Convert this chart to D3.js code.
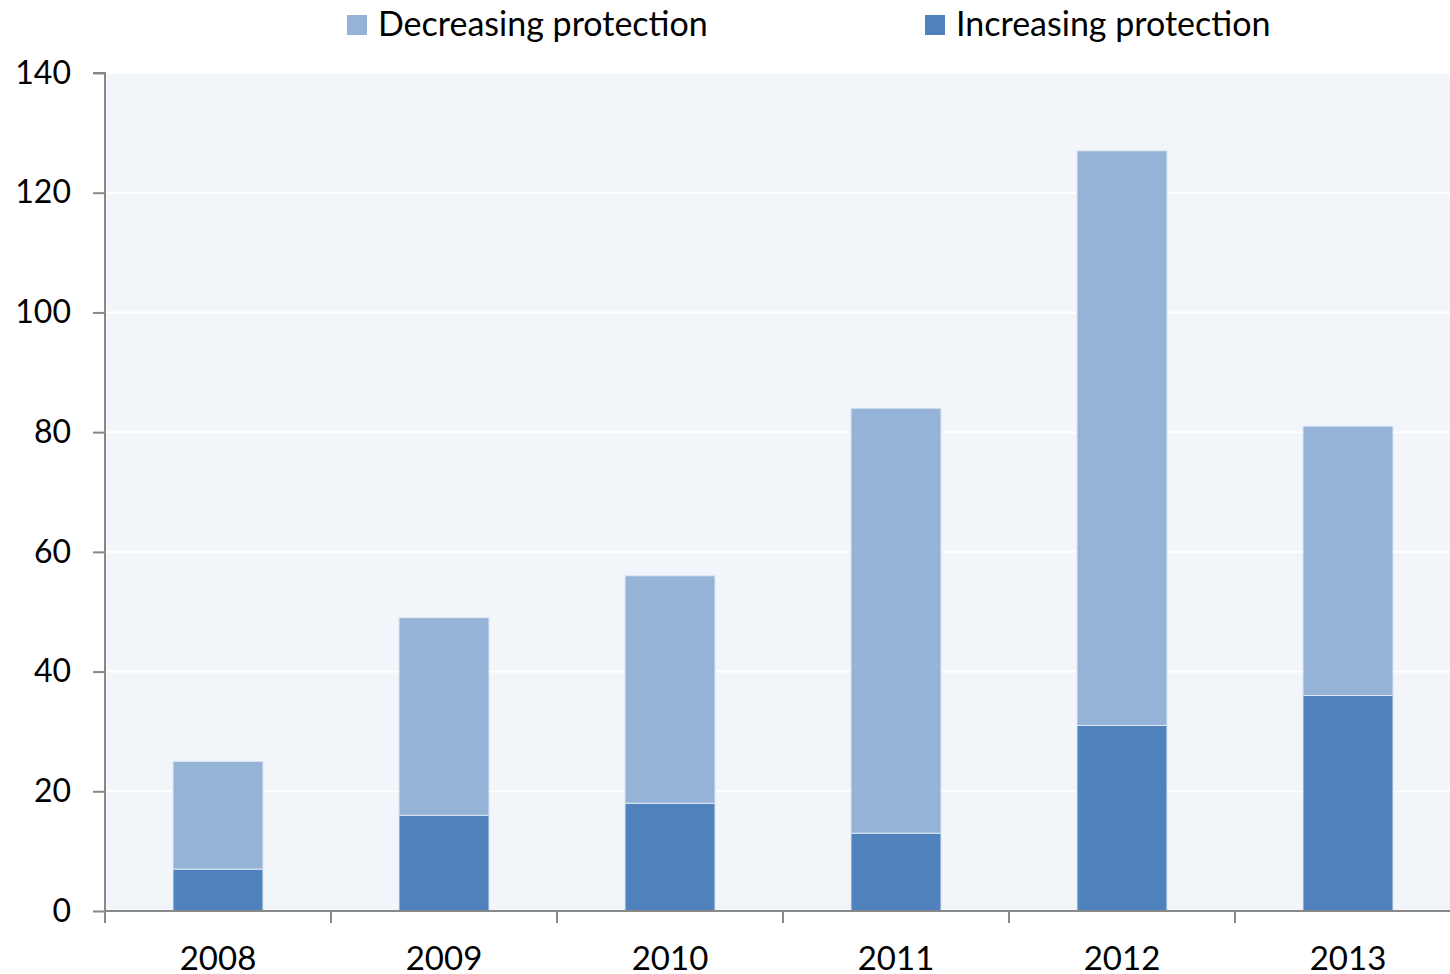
<!DOCTYPE html>
<html><head><meta charset="utf-8">
<script src="https://cdn.jsdelivr.net/npm/d3@7"></script>
<style>body{margin:0;background:#fff;} svg{display:block;font-family:Lato,"Open Sans",sans-serif;}</style>
</head><body><svg id="c" width="1450" height="974"></svg>
<script>
const years = ["2008","2009","2010","2011","2012","2013"];
const increasing = [7,16,18,13,31,36];
const decreasing = [18,33,38,71,96,45];
const seriesNames = ["Increasing protection","Decreasing protection"];
const yTicks = [0,20,40,60,80,100,120,140];

const svg = d3.select("#c");
const x0 = 105, y0 = 911, yTop = 73;
const xb = d3.scaleBand().domain(years).range([x0, x0 + 6*226]);
const y = d3.scaleLinear().domain([0,140]).range([y0, yTop]);
const colors = {"Increasing protection":"#4F81BD","Decreasing protection":"#95B3D7"};

svg.append("rect").attr("x",x0).attr("y",yTop).attr("width",1450-x0).attr("height",y0-yTop).attr("fill","#F2F6FA");
svg.append("g").selectAll("line").data(yTicks.slice(1)).join("line")
  .attr("x1",x0).attr("x2",1450).attr("y1",d=>y(d)).attr("y2",d=>y(d)).attr("stroke","#fff").attr("stroke-width",2);

const data = years.map((yr,i)=>({year:yr,"Increasing protection":increasing[i],"Decreasing protection":decreasing[i]}));
const stack = d3.stack().keys(seriesNames)(data);
const bw = 90;
svg.append("g").selectAll("g").data(stack).join("g").attr("fill",d=>colors[d.key])
  .selectAll("rect").data(d=>d).join("rect")
  .attr("x",d=>xb(d.data.year)+xb.bandwidth()/2-bw/2).attr("width",bw)
  .attr("y",d=>y(d[1])).attr("height",d=>y(d[0])-y(d[1]))
  .attr("stroke","#dbe6f3").attr("stroke-width",1);

// y axis
const ya = svg.append("g").attr("transform",`translate(${x0},0)`)
  .call(d3.axisLeft(y).tickValues(yTicks).tickSize(12).tickPadding(22).tickFormat(d3.format("d")));
ya.select(".domain").attr("stroke","#888").attr("stroke-width",2).attr("d",`M-12,${yTop}H0V${y0}`);
ya.selectAll(".tick line").attr("stroke","#888").attr("stroke-width",2);
ya.selectAll("text").attr("font-size",32).attr("fill","#000").attr("font-family","Lato, sans-serif");

// x axis
const xa = svg.append("g").attr("transform",`translate(0,${y0})`)
  .call(d3.axisBottom(xb).tickSize(0).tickPadding(36));
xa.select(".domain").attr("stroke","#888").attr("stroke-width",2).attr("d",`M${x0},0H1450`);
xa.selectAll("text").attr("font-size",33).attr("fill","#000").attr("font-family","Lato, sans-serif");
xa.append("g").selectAll("line").data(years).join("line")
  .attr("x1",d=>xb(d)).attr("x2",d=>xb(d)).attr("y1",0).attr("y2",12).attr("stroke","#888").attr("stroke-width",2);

// legend
const leg = [{k:"Decreasing protection",x:347},{k:"Increasing protection",x:925}];
const lg = svg.append("g").selectAll("g").data(leg).join("g").attr("transform",d=>`translate(${d.x},15)`);
lg.append("rect").attr("width",20).attr("height",20).attr("fill",d=>colors[d.k]);
lg.append("text").attr("x",31).attr("y",21).attr("font-size",34).attr("fill","#000").text(d=>d.k);
</script></body></html>
